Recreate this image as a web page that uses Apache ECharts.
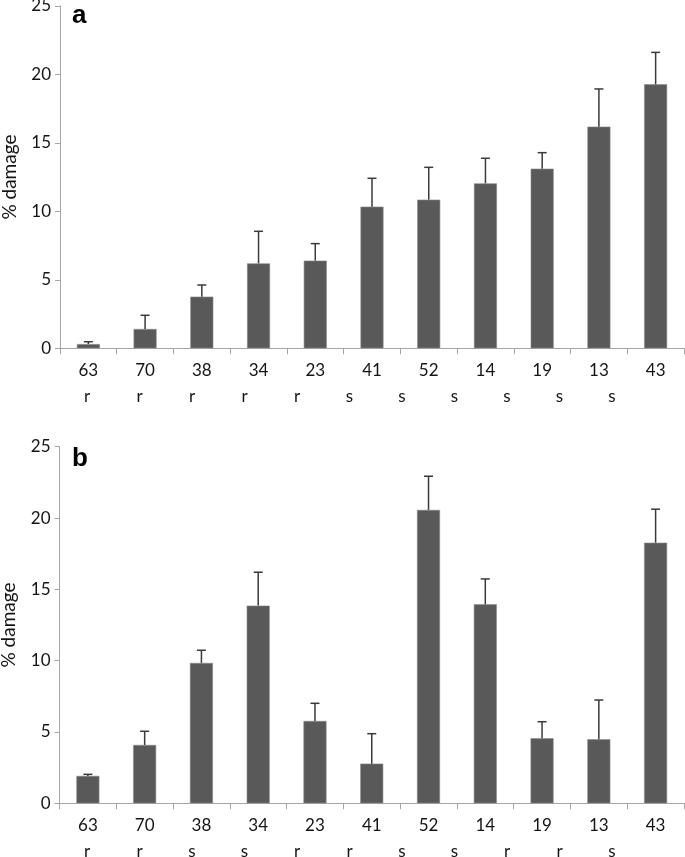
<!DOCTYPE html>
<html>
<head>
<meta charset="utf-8">
<script src="https://cdn.jsdelivr.net/npm/echarts@6/dist/echarts.min.js"></script>
<style>html,body{margin:0;padding:0;background:#fff;}#c{width:685px;height:857px;}</style>
</head>
<body>
<div id="c"></div>
<script>
const categories = ['63','70','38','34','23','41','52','14','19','13','43'];
const valuesA = [0.31,1.41,3.77,6.2,6.4,10.34,10.85,12.04,13.11,16.18,19.27];
const errA    = [0.17,1.0,0.85,2.34,1.24,2.07,2.36,1.83,1.17,2.75,2.33];
const groupsA = ['r','r','r','r','r','s','s','s','s','s','s'];
const valuesB = [1.92,4.09,9.84,13.86,5.77,2.78,20.57,13.95,4.56,4.49,18.27];
const errB    = [0.11,0.96,0.89,2.34,1.24,2.1,2.36,1.78,1.16,2.75,2.35];
const groupsB = ['r','r','s','s','r','r','s','s','r','r','s'];
const yTicks = [0,5,10,15,20,25];
const panelLabels = ['a','b'];
const yTitle = '% damage';

const FONT = 'Lato';
const FS = 17;
const axisGray = '#a6a6a6';
const barColor = '#595959';
const txt = '#141414';

function yAxis(gi){
  return {
    type:'value', gridIndex:gi, min:yTicks[0], max:yTicks[yTicks.length-1], interval:yTicks[1]-yTicks[0],
    name:yTitle, nameLocation:'middle', nameGap:41,
    nameTextStyle:{fontFamily:FONT, fontSize:19, color:txt},
    axisLine:{show:true, lineStyle:{color:axisGray, width:1}},
    axisTick:{show:true, length:5, lineStyle:{color:axisGray}},
    splitLine:{show:false},
    axisLabel:{fontFamily:FONT, fontSize:FS, color:txt, margin:9}
  };
}
function xAxis(gi){
  return {
    type:'category', gridIndex:gi, data:categories, boundaryGap:true,
    axisLine:{show:true, lineStyle:{color:axisGray, width:1}},
    axisTick:{show:true, length:6, interval:0, lineStyle:{color:axisGray}},
    axisLabel:{fontFamily:FONT, fontSize:FS, color:txt, margin:14, interval:0}
  };
}
function errSeries(idx, vals, errs){
  return {
    type:'custom', xAxisIndex:idx, yAxisIndex:idx, z:5,
    data: vals.map((v,i)=>[i, v, errs[i]]),
    renderItem:function(params, api){
      const x = api.value(0), v = api.value(1), e = api.value(2);
      const p0 = api.coord([x, v]);
      const p1 = api.coord([x, v+e]);
      const hw = 4.5;
      const st = {stroke:'#3a3a3a', lineWidth:1.5};
      return {type:'group', children:[
        {type:'line', shape:{x1:p0[0], y1:p0[1], x2:p1[0], y2:p1[1]}, style:st},
        {type:'line', shape:{x1:p1[0]-hw, y1:p1[1], x2:p1[0]+hw, y2:p1[1]}, style:st}
      ]};
    }
  };
}
function barSeries(idx, vals){
  return {
    type:'bar', xAxisIndex:idx, yAxisIndex:idx, data:vals, barWidth:23,
    itemStyle:{color:barColor, borderColor:'#8a8a8a', borderWidth:0.6},
    silent:true
  };
}
const graphics = [];
[groupsA, groupsB].forEach((g, k)=>{
  const yy = k===0 ? 397 : 852;
  g.forEach((t,i)=>{
    graphics.push({type:'text', x:87 + i*52.5, y:yy,
      style:{text:t, font:FS + 'px ' + FONT, fill:txt, align:'center', verticalAlign:'middle'}});
  });
});
graphics.push({type:'text', x:72, y:16, style:{text:panelLabels[0], font:'bold 26px "Liberation Sans"', fill:'#000', align:'left', verticalAlign:'middle'}});
graphics.push({type:'text', x:72, y:459, style:{text:panelLabels[1], font:'bold 26px "Liberation Sans"', fill:'#000', align:'left', verticalAlign:'middle'}});

const chart = echarts.init(document.getElementById('c'), null, {renderer:'canvas'});
chart.setOption({
  animation:false,
  backgroundColor:'#fff',
  grid:[
    {left:60, right:1, top:5.8, height:342.5, containLabel:false, outerBoundsMode:'none'},
    {left:59.5, right:1, top:446.7, height:356.6, containLabel:false, outerBoundsMode:'none'}
  ],
  xAxis:[xAxis(0), xAxis(1)],
  yAxis:[yAxis(0), yAxis(1)],
  series:[barSeries(0, valuesA), errSeries(0, valuesA, errA), barSeries(1, valuesB), errSeries(1, valuesB, errB)],
  graphic:graphics
});
</script>
</body>
</html>
